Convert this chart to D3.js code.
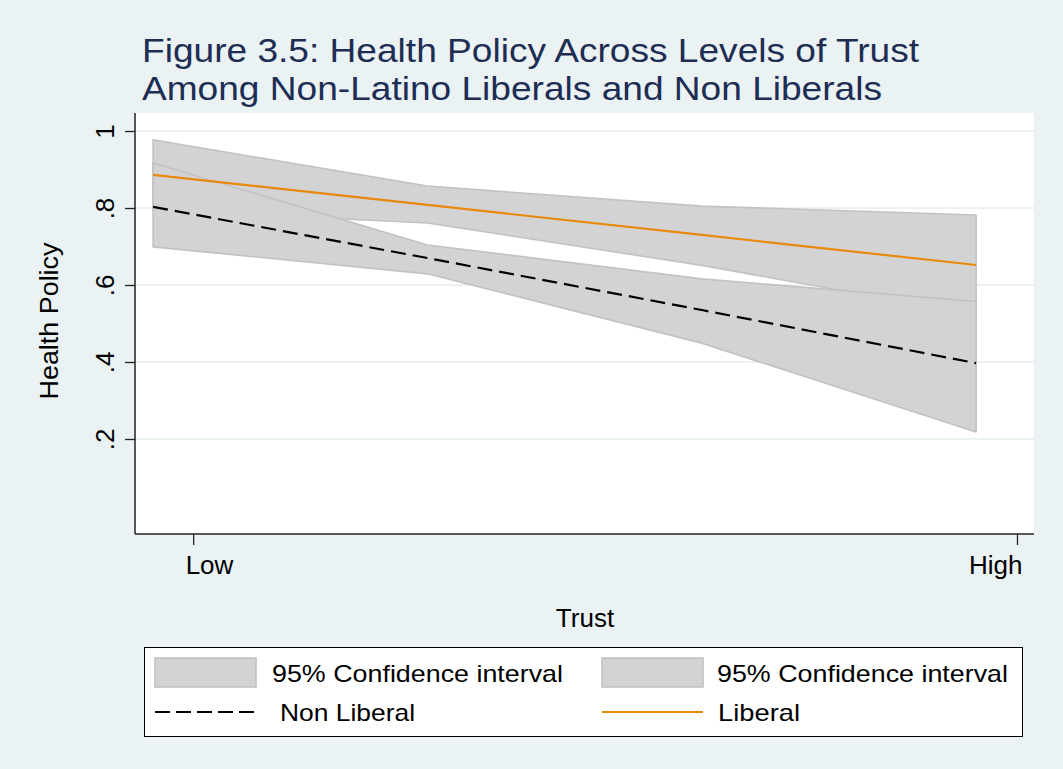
<!DOCTYPE html>
<html>
<head>
<meta charset="utf-8">
<script src="https://cdn.jsdelivr.net/npm/d3@7"></script>
<style>
  html, body { margin: 0; padding: 0; background: #eaf2f3; }
  svg { display: block; font-family: "Liberation Sans", Arial, Helvetica, sans-serif; }
</style>
</head>
<body>
<svg id="chart" width="1063" height="769"></svg>
<script>
// ---- data ----
const trust = [1, 2, 3, 4];
const nonLiberal = [0.803, 0.670, 0.535, 0.397];
const nonLiberalLo = [0.699, 0.629, 0.449, 0.218];
const nonLiberalHi = [0.917, 0.704, 0.616, 0.557];
const liberal = [0.886, 0.808, 0.730, 0.652];
const liberalLo = [0.795, 0.761, 0.651, 0.522];
const liberalHi = [0.977, 0.857, 0.805, 0.782];
const xTickValues = [1.146, 4.149];
const xTickLabels = ["Low", "High"];
const yTickValues = [0.2, 0.4, 0.6, 0.8, 1];
const yTickLabels = [".2", ".4", ".6", ".8", "1"];
const titleLines = ["Figure 3.5: Health Policy Across Levels of Trust",
                    "Among Non-Latino Liberals and Non Liberals"];
const legendLabels = ["95% Confidence interval", "95% Confidence interval", "Non Liberal", "Liberal"];

// ---- styles ----
const bg = "#eaf2f3", ciFill = "#d3d3d3", ciStroke = "#c2c2c2";
const orange = "#e8890c", navy = "#1e2d53";

const svg = d3.select("#chart");
svg.append("rect").attr("width", 1063).attr("height", 769).attr("fill", bg);

const plot = { left: 135, right: 1034, top: 113, bottom: 534 };
const x = d3.scaleLinear().domain([0.934, 4.211]).range([plot.left, plot.right]);
const y = d3.scaleLinear().domain([-0.0468, 1.0468]).range([plot.bottom, plot.top]);

svg.append("rect").attr("x", plot.left).attr("y", plot.top)
  .attr("width", plot.right - plot.left).attr("height", plot.bottom - plot.top)
  .attr("fill", "#ffffff");

// gridlines
svg.append("g").selectAll("line").data(yTickValues).join("line")
  .attr("x1", plot.left).attr("x2", plot.right)
  .attr("y1", d => y(d)).attr("y2", d => y(d))
  .attr("stroke", bg).attr("stroke-width", 2);

// CI areas
function band(lo, hi) {
  return trust.map((t, i) => ({ t, lo: lo[i], hi: hi[i] }));
}
const area = d3.area().x(d => x(d.t)).y0(d => y(d.lo)).y1(d => y(d.hi));
svg.append("path").datum(band(liberalLo, liberalHi)).attr("d", d => area(d) + "Z")
  .attr("fill", ciFill).attr("stroke", ciStroke).attr("stroke-width", 1.6).attr("stroke-linejoin", "round");
svg.append("path").datum(band(nonLiberalLo, nonLiberalHi)).attr("d", d => area(d) + "Z")
  .attr("fill", ciFill).attr("stroke", ciStroke).attr("stroke-width", 1.6).attr("stroke-linejoin", "round");

// lines
const line = d3.line().x((d, i) => x(trust[i])).y(d => y(d));
svg.append("path").datum(nonLiberal).attr("d", line)
  .attr("fill", "none").attr("stroke", "#000").attr("stroke-width", 2.2)
  .attr("stroke-dasharray", "15,7");
svg.append("path").datum(liberal).attr("d", line)
  .attr("fill", "none").attr("stroke", orange).attr("stroke-width", 2.2);

// y axis
const yAxis = svg.append("g").attr("transform", `translate(${plot.left},0)`)
  .call(d3.axisLeft(y).tickValues(yTickValues).tickSize(10).tickSizeOuter(0)
    .tickFormat((d, i) => yTickLabels[i]));
yAxis.select(".domain").attr("stroke", "#222").attr("stroke-width", 1.5)
  .attr("d", `M0,${plot.top}V${plot.bottom}`);
yAxis.selectAll(".tick line").attr("stroke", "#222").attr("stroke-width", 1.3);
yAxis.selectAll(".tick text")
  .attr("x", null).attr("dy", null)
  .attr("transform", "translate(-21,0) rotate(-90)")
  .attr("text-anchor", "middle")
  .attr("font-size", 26).attr("fill", "#000")
  .attr("font-family", "'Liberation Sans', Arial, sans-serif");

// x axis
const xAxis = svg.append("g").attr("transform", `translate(0,${plot.bottom})`)
  .call(d3.axisBottom(x).tickValues(xTickValues).tickSize(11).tickSizeOuter(0)
    .tickFormat((d, i) => xTickLabels[i]));
xAxis.select(".domain").attr("stroke", "#222").attr("stroke-width", 1.5)
  .attr("d", `M${plot.left},0H${plot.right}`);
xAxis.selectAll(".tick line").attr("stroke", "#222").attr("stroke-width", 1.3);
xAxis.selectAll(".tick text")
  .attr("y", 40).attr("dy", null)
  .attr("text-anchor", (d, i) => i === 0 ? "start" : "end")
  .attr("x", (d, i) => i === 0 ? -8 : 5)
  .attr("font-size", 26).attr("fill", "#000")
  .attr("font-family", "'Liberation Sans', Arial, sans-serif");

// axis titles
svg.append("text").attr("x", 585).attr("y", 627).attr("text-anchor", "middle")
  .attr("font-size", 26).attr("fill", "#000").text("Trust");
svg.append("text").attr("transform", "translate(58,321) rotate(-90)")
  .attr("text-anchor", "middle").attr("font-size", 26).attr("fill", "#000")
  .attr("textLength", 157).attr("lengthAdjust", "spacingAndGlyphs")
  .text("Health Policy");

// title
svg.append("text").attr("x", 142).attr("y", 62).attr("font-size", 34).attr("fill", navy)
  .attr("textLength", 777).attr("lengthAdjust", "spacingAndGlyphs").text(titleLines[0]);
svg.append("text").attr("x", 142).attr("y", 100).attr("font-size", 34).attr("fill", navy)
  .attr("textLength", 740).attr("lengthAdjust", "spacingAndGlyphs").text(titleLines[1]);

// legend
const lg = svg.append("g");
lg.append("rect").attr("x", 144.5).attr("y", 647.5).attr("width", 878).attr("height", 89)
  .attr("fill", "#fff").attr("stroke", "#000").attr("stroke-width", 1);
const cols = [155, 602];
const textX = [272, 717];
[0, 1].forEach(c => {
  lg.append("rect").attr("x", cols[c]).attr("y", 658).attr("width", 101).attr("height", 29)
    .attr("fill", ciFill).attr("stroke", ciStroke).attr("stroke-width", 1.6);
  lg.append("text").attr("x", textX[c]).attr("y", 682).attr("font-size", 24).attr("fill", "#000")
    .attr("textLength", 291).attr("lengthAdjust", "spacingAndGlyphs").text(legendLabels[c]);
});
lg.append("line").attr("x1", cols[0]).attr("x2", cols[0] + 101).attr("y1", 712).attr("y2", 712)
  .attr("stroke", "#000").attr("stroke-width", 2).attr("stroke-dasharray", "15,6");
lg.append("text").attr("x", 280).attr("y", 721).attr("font-size", 24).attr("fill", "#000")
  .attr("textLength", 135).attr("lengthAdjust", "spacingAndGlyphs").text(legendLabels[2]);
lg.append("line").attr("x1", cols[1]).attr("x2", cols[1] + 101).attr("y1", 712).attr("y2", 712)
  .attr("stroke", orange).attr("stroke-width", 2.2);
lg.append("text").attr("x", 718).attr("y", 721).attr("font-size", 24).attr("fill", "#000")
  .attr("textLength", 82).attr("lengthAdjust", "spacingAndGlyphs").text(legendLabels[3]);
</script>
</body>
</html>
